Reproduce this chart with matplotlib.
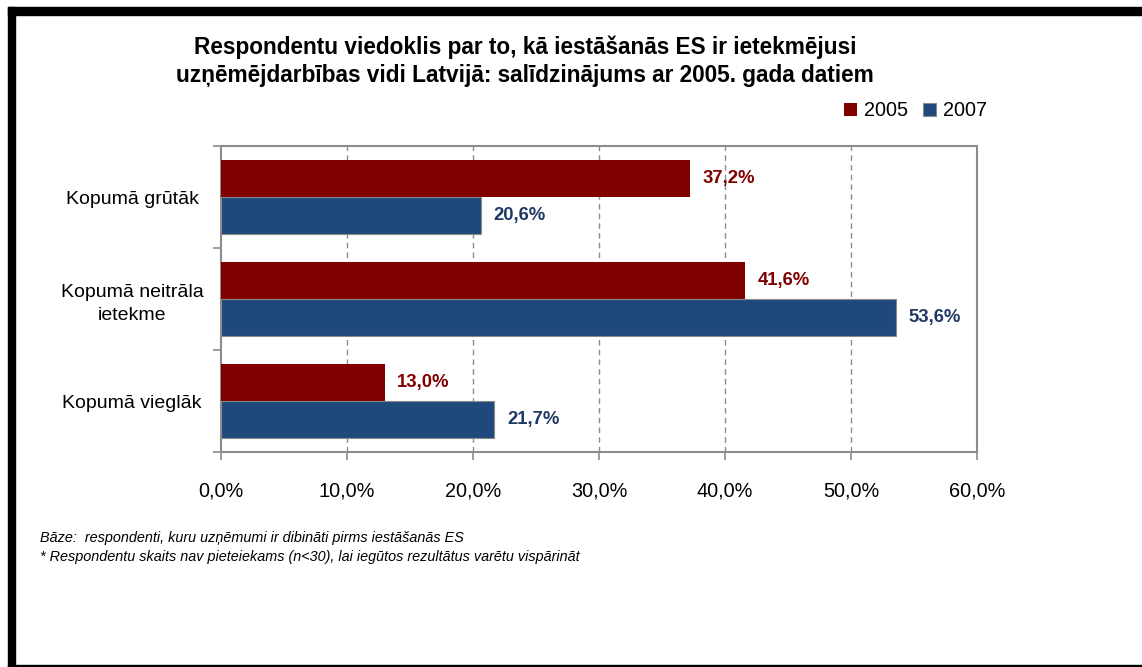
import matplotlib.pyplot as plt
from matplotlib.patches import Rectangle
from matplotlib.ticker import FixedLocator, FuncFormatter
from matplotlib import font_manager

categories = ['Kopumā grūtāk', 'Kopumā neitrāla\nietekme', 'Kopumā vieglāk']
years = ['2005', '2007']
values_2005 = [37.2, 41.6, 13.0]
values_2007 = [20.6, 53.6, 21.7]
x_ticks = [0, 10, 20, 30, 40, 50, 60]

title = ('Respondentu viedoklis par to, kā iestāšanās ES ir ietekmējusi\n'
         'uzņēmējdarbības vidi Latvijā: salīdzinājums ar 2005. gada datiem')
note1 = 'Bāze:  respondenti, kuru uzņēmumi ir dibināti pirms iestāšanās ES'
note2 = '* Respondentu skaits nav pieteiekams (n<30), lai iegūtos rezultātus varētu vispārināt'

names = {f.name for f in font_manager.fontManager.ttflist}
narrow = 'Liberation Sans Narrow' if 'Liberation Sans Narrow' in names else 'Liberation Sans'
plt.rcParams['font.family'] = [narrow, 'DejaVu Sans']

red = '#800000'
blue = '#1F497D'
grey = '#8C8C8C'


def main():
    W, H = 1142, 667
    fig = plt.figure(figsize=(W / 100, H / 100), dpi=100)

    # black frame of the slide
    fig.patches.append(Rectangle((8 / W, 1 - 15 / H), 1 - 8 / W, 8 / H, transform=fig.transFigure,
                                 color='black', zorder=0))
    fig.patches.append(Rectangle((8 / W, 0), 7 / W, 1 - 7 / H, transform=fig.transFigure,
                                 color='black', zorder=0))
    fig.patches.append(Rectangle((8 / W, 0), 1 - 8 / W, 2 / H, transform=fig.transFigure,
                                 color='black', zorder=0))

    ax = fig.add_axes([221 / W, 1 - 452 / H, (977 - 221) / W, (452 - 146) / H])

    h = 0.365
    pos = list(range(len(categories)))
    b1 = ax.barh([p - h / 2 for p in pos], values_2005, height=h, color=red, label=years[0], zorder=3)
    b2 = ax.barh([p + h / 2 for p in pos], values_2007, height=h, color=blue, label=years[1],
                 edgecolor='#8a8a8a', linewidth=0.8, zorder=3)

    for p, v in zip(pos, values_2005):
        ax.annotate(f'{v:.1f}%'.replace('.', ','), (v, p - h / 2), xytext=(9, 0),
                    textcoords='offset points', va='center', ha='left',
                    fontsize=13.3, fontweight='bold', color=red)
    for p, v in zip(pos, values_2007):
        ax.annotate(f'{v:.1f}%'.replace('.', ','), (v, p + h / 2), xytext=(9, 0),
                    textcoords='offset points', va='center', ha='left',
                    fontsize=13.3, fontweight='bold', color='#1F3864')

    ax.set_xlim(0, 60)
    ax.set_ylim(2.5, -0.5)
    ax.xaxis.set_major_locator(FixedLocator(x_ticks))
    ax.xaxis.set_major_formatter(FuncFormatter(lambda v, _: f'{v:.1f}%'.replace('.', ',')))
    ax.tick_params(axis='x', direction='out', length=6, color=grey, width=1.2,
                   labelsize=14.3, pad=15)

    ax.set_yticks([-0.5, 0.5, 1.5, 2.5])
    ax.set_yticklabels([])
    ax.set_yticks(pos, minor=True)
    ax.set_yticklabels(categories, minor=True, ha='center', fontsize=14, linespacing=1.5)
    ax.tick_params(axis='y', which='major', direction='out', length=6, color=grey, width=1.2)
    ax.tick_params(axis='y', which='minor', length=0, pad=64)

    for v in x_ticks[1:-1]:
        ax.axvline(v, color=grey, linestyle=(0, (4, 3)), linewidth=1, zorder=1)
    for s in ax.spines.values():
        s.set_color(grey)
        s.set_linewidth(1.5)

    fig.text(525 / W, 1 - 61 / H, title, ha='center', va='center', fontsize=16.3,
             fontweight='bold', linespacing=1.27)

    fig.legend(handles=[b1, b2], loc='center right', bbox_to_anchor=(987 / W, 1 - 111 / H),
               ncol=2, frameon=False, fontsize=14.3, handlelength=0.65, handleheight=0.65,
               handletextpad=0.35, columnspacing=0.75, borderaxespad=0, borderpad=0)

    fig.text(40 / W, 1 - 538 / H, note1, fontsize=10.4, style='italic', va='center')
    fig.text(40 / W, 1 - 557 / H, note2, fontsize=10.4, style='italic', va='center')

    fig.savefig('out.png', dpi=100)


if __name__ == '__main__':
    main()
